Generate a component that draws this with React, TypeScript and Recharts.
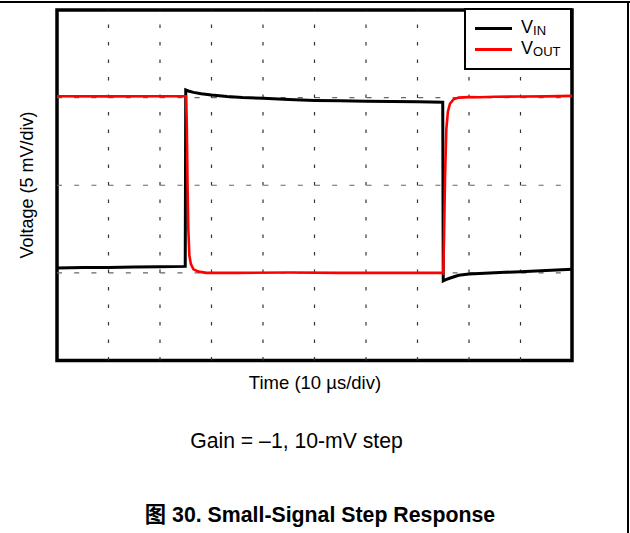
import { Legend, Line, LineChart, ReferenceArea, ReferenceLine, XAxis, YAxis } from 'recharts'

// time in µs, voltage in mV (scope: 10 µs/div, 5 mV/div)
const vinTime = [0, 5, 10, 15, 20, 24.9, 25.0, 25.5, 26.5, 28, 30, 33, 36, 40, 45, 50, 55, 60, 65, 70, 74.9, 75.0, 75.5, 76.5, 78, 80, 83, 86, 90, 95, 100]
const vinVolt = [-4.72, -4.7, -4.69, -4.67, -4.65, -4.63, 5.44, 5.38, 5.3, 5.22, 5.15, 5.07, 5.01, 4.96, 4.89, 4.84, 4.82, 4.8, 4.78, 4.76, 4.74, -5.45, -5.38, -5.28, -5.14, -5.07, -5.02, -4.98, -4.93, -4.86, -4.79]

const voutTime = [0, 10, 20, 25.05, 25.2, 25.35, 25.5, 25.7, 26.0, 26.5, 27.5, 29, 35, 45, 55, 65, 74.9, 75.0, 75.15, 75.35, 75.6, 75.9, 76.3, 77, 78, 80, 82, 85, 90, 95, 100]
const voutVolt = [5.08, 5.07, 5.08, 5.08, 3.5, 0.0, -2.5, -4.0, -4.5, -4.8, -4.93, -5.0, -5.0, -4.98, -5.0, -5.0, -5.0, -5.02, -3.0, 0.5, 3.2, 4.2, 4.65, 4.9, 5.0, 5.03, 5.02, 5.05, 5.06, 5.07, 5.1]

const timeTicks = [0, 10, 20, 30, 40, 50, 60, 70, 80, 90, 100]
const voltTicks = [-10, -5, 0, 5, 10]

const vinData = vinTime.map((t, i) => ({ t, v: vinVolt[i] }))
const voutData = voutTime.map((t, i) => ({ t, v: voutVolt[i] }))

const FONT = '"Liberation Sans", Arial, "Noto Sans CJK SC", sans-serif'

function ScopeLegend() {
  const row = (color: string, sub: string, y: number) => (
    <div style={{ position: 'absolute', left: 0, top: y, height: 20, width: 100 }}>
      <div style={{ position: 'absolute', left: 9, top: 9, width: 37, height: 2.5, background: color }} />
      <div style={{ position: 'absolute', left: 55, top: -1, fontSize: 18, lineHeight: '20px', color: '#000' }}>
        V<span style={{ fontSize: 13, verticalAlign: -2 }}>{sub}</span>
      </div>
    </div>
  )
  return (
    <div
      style={{
        position: 'relative',
        width: 108,
        height: 62,
        boxSizing: 'border-box',
        border: '2.5px solid #000',
        background: '#fff',
        fontFamily: FONT,
      }}
    >
      {row('#000', 'IN', 8)}
      {row('#ff0000', 'OUT', 29)}
    </div>
  )
}

export default function App() {
  return (
    <div style={{ position: 'absolute', left: 0, top: 0, width: 630, height: 533, background: '#fff', fontFamily: FONT }}>
      <div style={{ position: 'absolute', left: 0, top: 1, width: 630, height: 2, background: '#000' }} />
      <div style={{ position: 'absolute', left: 627, top: 1, width: 2, height: 532, background: '#000' }} />
      <LineChart width={630} height={533} margin={{ top: 10, right: 58, bottom: 172.5, left: 57 }}>
        <XAxis dataKey="t" type="number" domain={[0, 100]} ticks={timeTicks} hide allowDuplicatedCategory={false} />
        <YAxis type="number" domain={[-10, 10]} ticks={voltTicks} hide />
        {timeTicks.slice(1, -1).map((t) => (
          <ReferenceLine key={'x' + t} x={t} stroke="#333" strokeWidth={1.2} strokeDasharray="3.5 14" />
        ))}
        {voltTicks.slice(1, -1).map((v) => (
          <ReferenceLine key={'y' + v} y={v} stroke="#666" strokeWidth={1.2} strokeDasharray="5 12.2" />
        ))}
        <Line
          data={vinData}
          dataKey="v"
          type="linear"
          stroke="#000"
          strokeWidth={3}
          dot={false}
          isAnimationActive={false}
        />
        <Line
          data={voutData}
          dataKey="v"
          type="linear"
          stroke="#ff0000"
          strokeWidth={2.6}
          dot={false}
          isAnimationActive={false}
        />
        <ReferenceArea x1={0} x2={100} y1={-10} y2={10} fill="none" stroke="#000" strokeWidth={3.5} ifOverflow="visible" />
        <Legend
          layout="vertical"
          align="center"
          verticalAlign="middle"
          wrapperStyle={{ left: 464, top: 8, width: 108, height: 62 }}
          content={() => <ScopeLegend />}
        />
      </LineChart>
      <svg width={630} height={533} style={{ position: 'absolute', left: 0, top: 0, pointerEvents: 'none' }}>
        <text x={315} y={389} textAnchor="middle" fontSize={18.5} fontFamily={FONT} fill="#000">
          Time (10 µs/div)
        </text>
        <text
          x={0}
          y={0}
          transform="translate(33 185) rotate(-90)"
          textAnchor="middle"
          fontSize={18}
          fontFamily={FONT}
          fill="#000"
        >
          Voltage (5 mV/div)
        </text>
        <text x={296.5} y={448} textAnchor="middle" fontSize={21.2} fontFamily={FONT} fill="#000">
          Gain = –1, 10-mV step
        </text>
        <text x={320} y={522} textAnchor="middle" fontSize={21.3} fontWeight="bold" fontFamily={FONT} fill="#000">
          图 30. Small-Signal Step Response
        </text>
      </svg>
    </div>
  )
}
